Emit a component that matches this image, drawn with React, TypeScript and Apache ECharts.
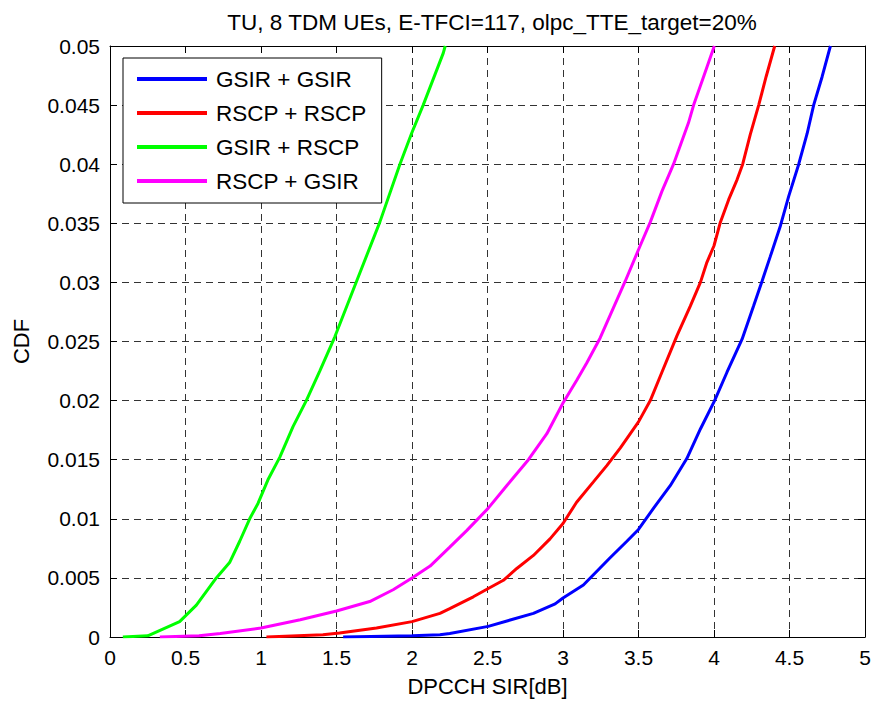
import React, { useEffect, useRef } from "react";
import * as echarts from "echarts";

const FONT = "'Liberation Sans', Arial, Helvetica, sans-serif";

const titleText = "TU, 8 TDM UEs, E-TFCI=117, olpc_TTE_target=20%";
const xAxisName = "DPCCH SIR[dB]";
const yAxisName = "CDF";
const seriesNames = ["GSIR + GSIR", "RSCP + RSCP", "GSIR + RSCP", "RSCP + GSIR"];
const seriesColors = ["#0000ff", "#ff0000", "#00ff00", "#ff00ff"];

const gsirGsir = [
  [1.544, 0], [2.0, 0.0001], [2.185, 0.0002], [2.25, 0.0003], [2.505, 0.0009], [2.804, 0.002],
  [2.948, 0.0028], [3.0, 0.0033], [3.135, 0.0044], [3.312, 0.0067], [3.423, 0.0081], [3.5, 0.0091],
  [3.6, 0.0109], [3.71, 0.0128], [3.82, 0.0151], [3.91, 0.0176], [4.004, 0.02], [4.086, 0.0224],
  [4.186, 0.0252], [4.262, 0.028], [4.318, 0.0301], [4.373, 0.0322], [4.44, 0.0348], [4.495, 0.0373],
  [4.561, 0.04], [4.617, 0.0426], [4.66, 0.045], [4.716, 0.0474], [4.771, 0.05],
];

const rscpRscp = [
  [1.036, 0], [1.41, 0.0002], [1.52, 0.00034], [1.765, 0.00076], [2.0, 0.0013], [2.185, 0.002],
  [2.25, 0.0024], [2.406, 0.0034], [2.505, 0.0041], [2.605, 0.0048], [2.694, 0.0058], [2.804, 0.0069],
  [2.914, 0.0083], [3.0, 0.0096], [3.09, 0.0114], [3.2, 0.0131], [3.29, 0.0145], [3.38, 0.016],
  [3.5, 0.0182], [3.578, 0.02], [3.655, 0.0224], [3.755, 0.0255], [3.843, 0.028], [3.91, 0.03],
  [3.953, 0.0317], [4.0, 0.0331], [4.04, 0.035], [4.097, 0.037], [4.153, 0.0387], [4.19, 0.04],
  [4.24, 0.0425], [4.296, 0.045], [4.345, 0.0474], [4.402, 0.05],
];

const gsirRscp = [
  [0.085, 0], [0.25, 0.0001], [0.461, 0.0013], [0.572, 0.0027], [0.704, 0.005], [0.792, 0.0063],
  [0.859, 0.0081], [0.925, 0.01], [0.98, 0.0113], [1.046, 0.0133], [1.124, 0.0152], [1.212, 0.0178],
  [1.3, 0.02], [1.389, 0.0225], [1.489, 0.0254], [1.633, 0.0301], [1.787, 0.0351],
  [1.92, 0.04], [1.997, 0.0426], [2.074, 0.045], [2.207, 0.0494], [2.22, 0.05],
];

const rscpGsir = [
  [0.33, 0], [0.59, 0.0001], [0.73, 0.0003], [1.0, 0.00076], [1.26, 0.00146], [1.5, 0.0022],
  [1.72, 0.003], [1.875, 0.004], [2.0, 0.005], [2.12, 0.006], [2.25, 0.0076],
  [2.362, 0.009], [2.505, 0.0109], [2.627, 0.0128], [2.771, 0.015], [2.893, 0.0172], [3.0, 0.0198],
  [3.09, 0.0217], [3.158, 0.0232], [3.246, 0.0253], [3.412, 0.0301], [3.511, 0.0331], [3.578, 0.0351],
  [3.655, 0.0377], [3.732, 0.04], [3.831, 0.0435], [3.865, 0.045], [3.931, 0.0474], [4.002, 0.05],
];

const seriesData = [gsirGsir, rscpRscp, gsirRscp, rscpGsir];

const xMin = 0, xMax = 5, xInterval = 0.5;
const yMin = 0, yMax = 0.05, yInterval = 0.005;

export default function App() {
  const ref = useRef<HTMLDivElement>(null);
  useEffect(() => {
    const chart = echarts.init(ref.current!, null, { renderer: "svg" });
    const textStyle = { color: "#000", fontFamily: FONT, fontSize: 21 };
    const splitLine = { show: true, lineStyle: { type: [7, 5], color: "#333", width: 1 } };
    const axisLine = { show: true, onZero: false, lineStyle: { color: "#000", width: 1 } };
    const axisTick = { show: true, inside: true, length: 7, lineStyle: { color: "#000", width: 1 } };
    chart.setOption({
      animation: false,
      backgroundColor: "#fff",
      title: {
        text: titleText,
        left: 487,
        textAlign: "center",
        top: 6,
        textStyle: { ...textStyle, fontWeight: "normal", fontSize: 22.5 },
      },
      grid: { left: 110, top: 46, width: 755, height: 593, containLabel: false },
      legend: {
        orient: "vertical",
        left: 123,
        top: 58,
        padding: [9, 15, 10, 14],
        itemGap: 10,
        itemWidth: 70,
        itemHeight: 4,
        icon: "rect",
        borderColor: "#000",
        borderWidth: 1,
        backgroundColor: "#fff",
        textStyle: { ...textStyle, fontSize: 22.5, lineHeight: 24, padding: [0, 0, 0, 4] },
        data: seriesNames,
      },
      xAxis: [
        {
          type: "value", min: xMin, max: xMax, interval: xInterval, position: "bottom",
          axisLine, axisTick, splitLine,
          axisLabel: { ...textStyle, margin: 10 },
          name: xAxisName, nameLocation: "middle", nameGap: 38,
          nameTextStyle: { ...textStyle, fontSize: 22 },
        },
        {
          type: "value", min: xMin, max: xMax, interval: xInterval, position: "top",
          axisLine, axisTick, splitLine: { show: false }, axisLabel: { show: false },
        },
      ],
      yAxis: [
        {
          type: "value", min: yMin, max: yMax, interval: yInterval, position: "left",
          axisLine, axisTick, splitLine,
          axisLabel: { ...textStyle, margin: 10 },
          name: yAxisName, nameLocation: "middle", nameGap: 78,
          nameTextStyle: { ...textStyle, fontSize: 22 },
        },
        {
          type: "value", min: yMin, max: yMax, interval: yInterval, position: "right",
          axisLine, axisTick, splitLine: { show: false }, axisLabel: { show: false },
        },
      ],
      series: seriesNames.map((name, i) => ({
        name,
        type: "line",
        data: seriesData[i],
        xAxisIndex: 0,
        yAxisIndex: 0,
        symbol: "none",
        showSymbol: false,
        color: seriesColors[i],
        lineStyle: { color: seriesColors[i], width: 3 },
        clip: true,
      })),
    });
    return () => chart.dispose();
  }, []);
  return (
    <div
      ref={ref}
      style={{ position: "absolute", left: 0, top: 0, width: 877, height: 702, background: "#fff" }}
    />
  );
}
